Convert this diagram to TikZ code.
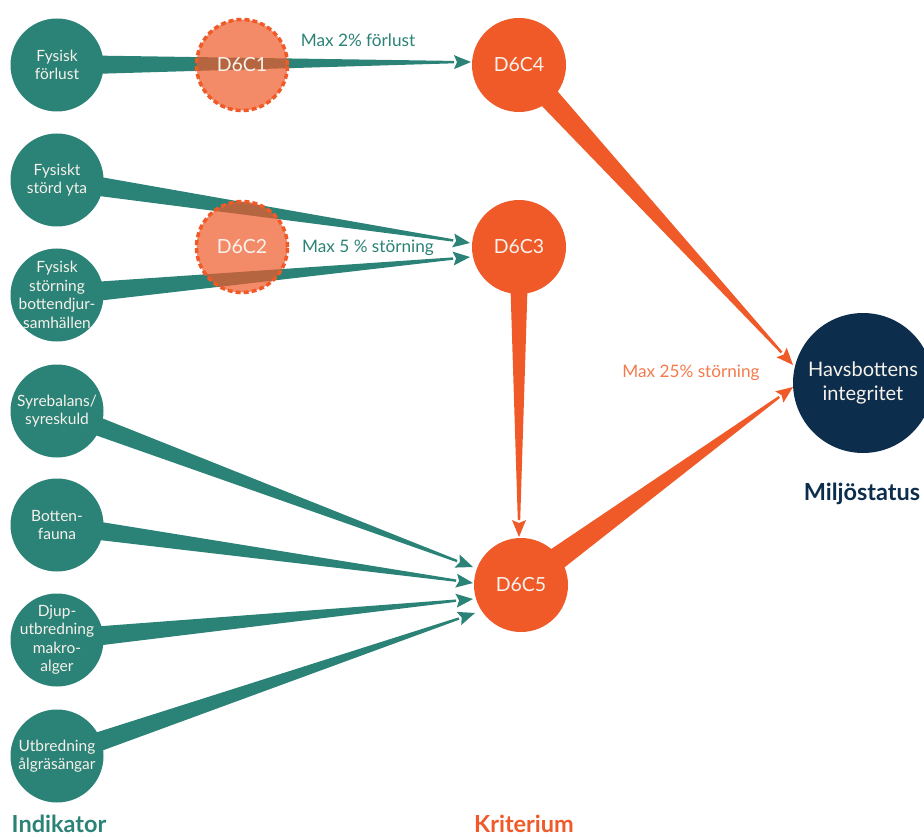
\documentclass[tikz,border=0pt]{standalone}
\usepackage{fontspec}
\setmainfont{Lato}
\usetikzlibrary{calc}
\definecolor{tealc}{HTML}{2B8276}
\definecolor{orangec}{HTML}{F05A28}
\definecolor{navyc}{HTML}{0C2D4C}
\definecolor{txtc}{HTML}{F6F2EC}
\definecolor{lorange}{HTML}{F47A4D}
\pgfdeclarelayer{bg}
\pgfsetlayers{bg,main}
\newcommand\wedgearrow[4]{%
  \coordinate (wb) at ($(#2)!17pt!(#1)$);
  \fill[#4] ($(#1)!#3!90:(#2)$) -- ($(wb)!1.2pt!90:(#2)$) -- ($(wb)!1.2pt!-90:(#2)$) -- ($(#1)!#3!-90:(#2)$) -- cycle;
  \fill[#4] (#2) -- ($(wb)!7pt!90:(#2)$) -- ($(wb)!3pt!(#2)$) -- ($(wb)!7pt!-90:(#2)$) -- cycle;
}
\tikzset{
  ind/.style={circle, fill=tealc, minimum size=93pt, inner sep=-12pt, text=txtc, align=center, font=\fontsize{15.5}{18.5}\selectfont},
  crit/.style={circle, fill=orangec, minimum size=94pt, inner sep=0pt, text=txtc, font=\fontsize{19.5}{22}\selectfont},
  dcrit/.style={circle, fill=orangec, fill opacity=0.7, text opacity=1, draw=orangec, line width=3.5pt, dash pattern=on 5pt off 3pt, minimum size=91pt, inner sep=0pt, text=txtc, font=\fontsize{19.5}{22}\selectfont},
  status/.style={circle, fill=navyc, minimum size=140pt, inner sep=0pt, text=txtc, align=center, font=\fontsize{20}{24}\selectfont},
  lbl/.style={anchor=base, font=\fontsize{17.2}{20}\selectfont},
  head/.style={anchor=base, font=\fontsize{23.5}{26}\selectfont\bfseries}
}
\begin{document}
\begin{tikzpicture}[x=1pt,y=-1pt]
\useasboundingbox (0,0) rectangle (924,837);
% indicators
\node[ind] (i1) at (57,65) {Fysisk\\förlust};
\node[ind] (i2) at (57,180) {Fysiskt\\störd yta};
\node[ind] (i3) at (57,295) {Fysisk\\störning\\bottendjur-\\samhällen};
\node[ind] (i4) at (57,411) {Syrebalans/\\syreskuld};
\node[ind] (i5) at (57,525) {Botten-\\fauna};
\node[ind] (i6) at (57,640) {Djup-\\utbredning\\makro-\\alger};
\node[ind] (i7) at (57,756) {Utbredning\\ålgräsängar};
% criteria
\node[crit] (c4) at (519,65) {D6C4};
\node[crit] (c3) at (519,247) {D6C3};
\node[crit] (c5) at (521,585) {D6C5};
\node[status] (hav) at (863,383) {Havsbottens\\integritet};
% arrow tips
\coordinate (t1) at (471,62);
\coordinate (t2) at (470,243);
\coordinate (t3) at (470,257);
\coordinate (t4) at (473,567);
\coordinate (t5) at (473,583);
\coordinate (t6) at (473,599);
\coordinate (t7) at (475,613);
\coordinate (t8) at (519,537);
\coordinate (t9) at (793,365);
\coordinate (t10) at (793,387);
\begin{pgfonlayer}{bg}
\wedgearrow{i1.center}{t1}{10pt}{tealc}
\wedgearrow{i2.center}{t2}{10.5pt}{tealc}
\wedgearrow{i3.center}{t3}{10.5pt}{tealc}
\wedgearrow{i4.center}{t4}{10pt}{tealc}
\wedgearrow{i5.center}{t5}{10pt}{tealc}
\wedgearrow{i6.center}{t6}{10.5pt}{tealc}
\wedgearrow{i7.center}{t7}{10.5pt}{tealc}
\wedgearrow{c3.center}{t8}{9.8pt}{orangec}
\wedgearrow{c4.center}{t9}{12pt}{orangec}
\wedgearrow{c5.center}{t10}{13pt}{orangec}
\end{pgfonlayer}
% dashed criteria
\node[dcrit] (d1) at (242,65) {D6C1};
\node[dcrit] (d2) at (242,247) {D6C2};
% labels
\node[lbl, text=tealc] (m1) at (358,47) {Max 2\% förlust};
\node[lbl, text=tealc] (m2) at (368,253) {Max 5 \% störning};
\node[lbl, text=lorange] (m3) at (691,377) {Max 25\% störning};
\node[head, text=tealc] (h1) at (59,832) {Indikator};
\node[head, text=orangec] (h2) at (524,832) {Kriterium};
\node[head, text=navyc] (h3) at (862,500) {Miljöstatus};
\end{tikzpicture}
\end{document}
